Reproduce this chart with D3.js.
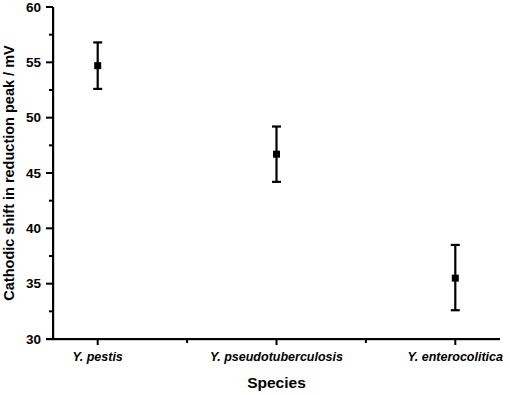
<!DOCTYPE html>
<html><head><meta charset="utf-8">
<script src="https://cdn.jsdelivr.net/npm/d3@7"></script>
<style>body{margin:0;background:#fff}</style>
</head><body><svg id="c" width="510" height="395"></svg>
<script>
const categories = ["Y. pestis", "Y. pseudotuberculosis", "Y. enterocolitica"];
const means = [54.7, 46.7, 35.5];
const upper = [56.8, 49.2, 38.5];
const lower = [52.6, 44.2, 32.6];
const yTicks = [30, 35, 40, 45, 50, 55, 60];
const yMinorTicks = [32.5, 37.5, 42.5, 47.5, 52.5, 57.5];
const xMinorTicks = [0.5, 1.5];

const FONT = "Liberation Sans, Arial, sans-serif";
const svg = d3.select("#c");
const L = 53, R = 500, T = 7, B = 339;
const x = d3.scaleLinear().domain([-0.25, 2.25]).range([L, R]);
const y = d3.scaleLinear().domain([30, 60]).range([B, T]);
const idx = d3.range(categories.length);

// axis frame (as rects)
const ax = svg.append("g").attr("fill", "#000");
ax.append("rect").attr("x", L - 1).attr("y", y(60)).attr("width", 2.2).attr("height", y(30) - y(60) + 1.1);
ax.append("rect").attr("x", L - 7).attr("y", y(30) - 1).attr("width", x(2.25) - (L - 7)).attr("height", 2.2);

// y ticks
ax.selectAll("rect.ymaj").data(yTicks).join("rect").attr("class", "ymaj")
  .attr("x", L - 7).attr("y", d => y(d) - 1).attr("width", 7).attr("height", 2);
ax.selectAll("rect.ymin").data(yMinorTicks).join("rect").attr("class", "ymin")
  .attr("x", L - 4).attr("y", d => y(d) - 1).attr("width", 4).attr("height", 2);
// x ticks
ax.selectAll("rect.xmaj").data(idx).join("rect").attr("class", "xmaj")
  .attr("x", i => x(i) - 1).attr("y", B).attr("width", 2).attr("height", 6);
ax.selectAll("rect.xmin").data(xMinorTicks).join("rect").attr("class", "xmin")
  .attr("x", d => x(d) - 1).attr("y", B).attr("width", 2).attr("height", 4);

// tick labels
svg.append("g").selectAll("text").data(yTicks).join("text")
  .attr("x", L - 12).attr("y", d => y(d)).attr("dy", "0.35em").attr("text-anchor", "end")
  .attr("font-family", FONT).attr("font-size", 13.5).attr("font-weight", "bold")
  .attr("fill", "#000").text(d => d);
svg.append("g").selectAll("text").data(idx).join("text")
  .attr("x", i => x(i)).attr("y", B + 22).attr("text-anchor", "middle")
  .attr("font-family", FONT).attr("font-size", 12.5).attr("font-weight", "bold").attr("font-style", "italic")
  .attr("fill", "#000").text(i => categories[i]);

// error bars
const g = svg.append("g").attr("fill", "#000");
g.selectAll(".v").data(idx).join("rect").attr("class", "v")
  .attr("x", i => x(i) - 1.1).attr("width", 2.2)
  .attr("y", i => y(upper[i])).attr("height", i => y(lower[i]) - y(upper[i]));
g.selectAll(".ct").data(idx).join("rect").attr("class", "ct")
  .attr("x", i => x(i) - 4.5).attr("width", 9)
  .attr("y", i => y(upper[i]) - 1.1).attr("height", 2.2);
g.selectAll(".cb").data(idx).join("rect").attr("class", "cb")
  .attr("x", i => x(i) - 4.5).attr("width", 9)
  .attr("y", i => y(lower[i]) - 1.1).attr("height", 2.2);
g.selectAll(".m").data(idx).join("rect").attr("class", "m")
  .attr("x", i => x(i) - 3.5).attr("y", i => y(means[i]) - 3.5)
  .attr("width", 7).attr("height", 7);

// titles
svg.append("text").attr("x", x(1)).attr("y", 388).attr("text-anchor", "middle")
  .attr("font-family", FONT).attr("font-size", 15.5).attr("font-weight", "bold").text("Species");
svg.append("text").attr("transform", `translate(14,${(T+B)/2}) rotate(-90)`)
  .attr("text-anchor", "middle").attr("font-family", FONT).attr("font-size", 14.5).attr("font-weight", "bold")
  .text("Cathodic shift in reduction peak / mV");
</script></body></html>
